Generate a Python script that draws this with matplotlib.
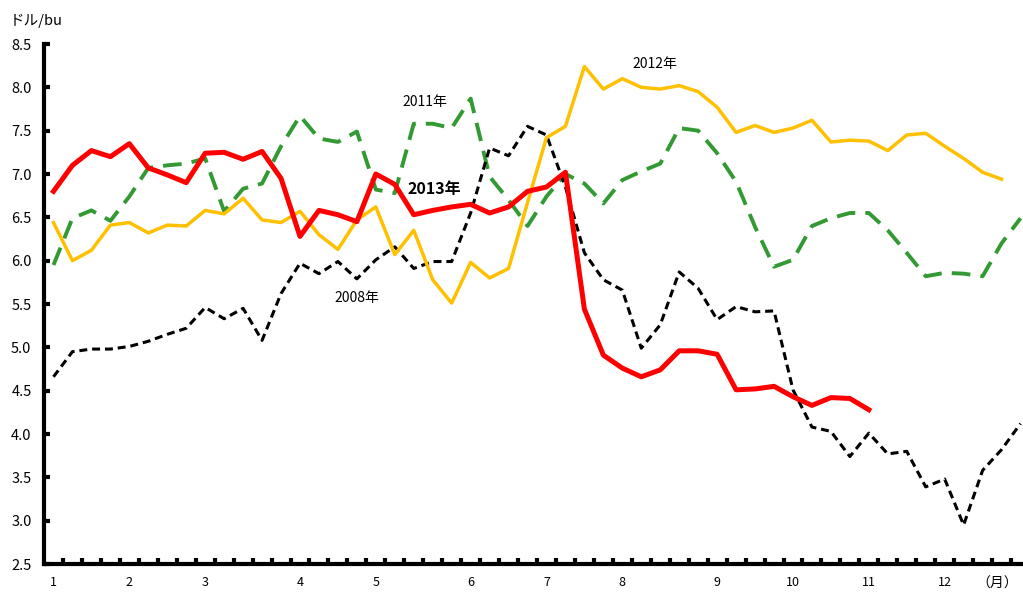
import matplotlib
matplotlib.use("Agg")
import matplotlib.pyplot as plt
import numpy as np

plt.rcParams["font.family"] = ["Noto Sans CJK JP", "DejaVu Sans"]

# weekly prices (US$/bu), week 0 = first week of January
month_labels = ["1", "2", "3", "4", "5", "6", "7", "8", "9", "10", "11", "12"]
month_pos = [0, 4, 8, 13, 17, 22, 26, 30, 35, 39, 43, 47]

y2008 = [4.66, 4.95, 4.98, 4.98, 5.01, 5.07, 5.15, 5.22, 5.46, 5.33,
         5.45, 5.08, 5.62, 5.97, 5.85, 5.99, 5.79, 6.01, 6.16, 5.91,
         5.99, 5.99, 6.55, 7.30, 7.21, 7.55, 7.45, 6.85, 6.09, 5.78,
         5.66, 4.99, 5.26, 5.87, 5.68, 5.32, 5.47, 5.41, 5.42, 4.51,
         4.08, 4.03, 3.74, 4.01, 3.77, 3.80, 3.39, 3.48, 2.95, 3.58,
         3.82, 4.12]

y2011 = [5.95, 6.49, 6.58, 6.46, 6.74, 7.07, 7.10, 7.12, 7.18, 6.57,
         6.83, 6.89, 7.32, 7.67, 7.41, 7.37, 7.49, 6.82, 6.78, 7.58,
         7.58, 7.53, 7.87, 6.97, 6.70, 6.40, 6.74, 7.00, 6.89, 6.66,
         6.93, 7.03, 7.12, 7.53, 7.50, 7.24, 6.91, 6.39, 5.93, 6.01,
         6.40, 6.49, 6.55, 6.55, 6.35, 6.09, 5.82, 5.86, 5.85, 5.82,
         6.20, 6.49]

y2012 = [6.44, 6.00, 6.12, 6.41, 6.44, 6.32, 6.41, 6.40, 6.58, 6.54,
         6.72, 6.47, 6.44, 6.57, 6.30, 6.13, 6.47, 6.62, 6.07, 6.35,
         5.78, 5.51, 5.98, 5.80, 5.91, 6.67, 7.42, 7.55, 8.24, 7.98,
         8.10, 8.00, 7.98, 8.02, 7.95, 7.77, 7.48, 7.56, 7.48, 7.53,
         7.62, 7.37, 7.39, 7.38, 7.27, 7.45, 7.47, 7.32, 7.18, 7.02,
         6.94]

y2013 = [6.80, 7.10, 7.27, 7.20, 7.35, 7.07, 6.99, 6.90, 7.24, 7.25,
         7.17, 7.26, 6.95, 6.28, 6.58, 6.53, 6.45, 7.00, 6.88, 6.53,
         6.58, 6.62, 6.65, 6.55, 6.62, 6.80, 6.85, 7.02, 5.44, 4.91,
         4.76, 4.66, 4.74, 4.96, 4.96, 4.92, 4.51, 4.52, 4.55, 4.43,
         4.33, 4.42, 4.41, 4.28]

fig = plt.figure(figsize=(10.23, 5.96), dpi=100)
# axis runs a little past the right edge of the picture, as in the original
ax = fig.add_axes([44 / 1023, 32 / 596, 986 / 1023, 520 / 596])

ax.plot(np.arange(len(y2011)), y2011, color="#339933", linewidth=2.8,
        dashes=(4.8, 2.6), dash_capstyle="butt")
ax.plot(np.arange(len(y2008)), y2008, color="black", linewidth=2.2,
        dashes=(2.6, 1.6))
ax.plot(np.arange(len(y2012)), y2012, color="#FFC000", linewidth=2.5)
ax.plot(np.arange(len(y2013)), y2013, color="#FF0000", linewidth=3.6)

ax.set_xlim(-0.5, 51.5)
ax.set_ylim(2.5, 8.5)
ax.set_yticks(np.arange(2.5, 8.51, 0.5))
ax.set_yticklabels([f"{v:.1f}" for v in np.arange(2.5, 8.51, 0.5)])
ax.set_xticks(month_pos)
ax.set_xticklabels(month_labels)
ax.set_xticks(np.arange(0.5, 51.5, 1), minor=True)

for side in ["top", "right"]:
    ax.spines[side].set_visible(False)
for side in ["left", "bottom"]:
    ax.spines[side].set_linewidth(3)

ax.tick_params(axis="y", direction="in", length=4, width=3, pad=9,
               labelsize=10.5)
ax.tick_params(axis="x", which="major", length=0, pad=9, labelsize=9)
ax.tick_params(axis="x", which="minor", direction="in", length=4, width=3)

ax.text(31.7, 8.27, "2012年", ha="center", va="center", fontsize=10)
ax.text(19.6, 7.83, "2011年", ha="center", va="center", fontsize=10)
ax.text(20.1, 6.83, "2013年", ha="center", va="center", fontsize=11.5,
        fontweight="bold")
ax.text(16.0, 5.57, "2008年", ha="center", va="center", fontsize=10)

fig.text(997 / 1023, 1 - 584 / 596, "（月）", ha="center", va="center",
         fontsize=10)
fig.text(10 / 1023, 1 - 21 / 596, "ドル/bu", ha="left", va="center",
         fontsize=10.5)

fig.savefig("out.png", dpi=100)
